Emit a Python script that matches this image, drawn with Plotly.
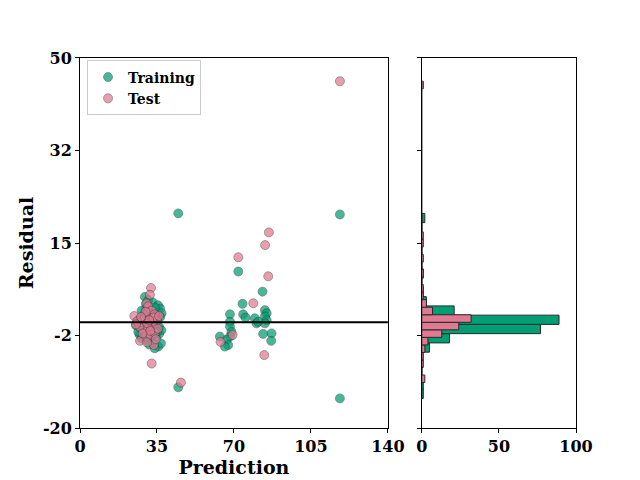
import plotly.graph_objects as go

# ---------------- data ----------------
train_pred = [29.5, 31, 33, 35.5, 36.4, 37.1, 36.5, 35, 33, 31, 29, 27, 26, 25.5, 28, 30, 32, 34, 36, 37,
              36, 34.5, 33, 31, 29, 27, 28, 30.5, 32.5, 35.6, 36.8, 34, 31.5, 27.5, 26.5, 30, 32, 34, 28, 33,
              31, 35, 29, 30, 34,
              44.7, 118.2, 72, 83.0, 73.9, 68.2, 74.2, 75.3, 84.1, 84.9, 84.1, 84.9, 84.1, 79.5, 80.3, 81,
              83.3, 87.1, 86.95, 68.2, 68.2, 68.9, 68.2, 66.7, 67.4, 63.6, 65.9, 44.7, 118.2]
train_resid = [4.8, 4.2, 3.8, 3.2, 2.6, 1.7, 1.0, 0.5, 0.2, 0.8, 1.5, 0.5, 0.0, -0.6, -0.3, -0.8, -1.2, -0.5, -0.9, -1.5,
               -2.2, -2.8, -2.5, -2.0, -1.8, -2.3, -3.0, -3.4, -3.8, -4.6, -4.0, -4.9, -4.2, -1.2, -1.8, 2.5, 1.9, 1.3, 2.2, -0.3,
               -0.2, -1.8, 0.3, 3.5, 2.8,
               20.6, 20.4, 9.6, 5.8, 3.5, 1.5, 1.5, 0.9, 2.3, 1.7, 1.1, 0.4, -0.2, 0.75, -0.2, 0.1,
               -2.2, -2.1, -3.5, 0.1, -0.8, -1.8, -2.7, -3.3, -4.3, -2.7, -4.6, -12.3, -14.4]

test_pred = [32.3, 31.8, 30.3, 31, 24.7, 27.3, 33.6, 32.6, 28, 29.5, 31, 32.5, 34, 35, 33, 31, 29, 27, 26,
             30, 32, 34, 35.5, 28.5, 30.5, 33.5, 29.8, 31.5, 27.8, 34.5, 30.5, 36, 25.5, 32,
             85.9, 84.2, 72, 85.6, 78.8, 63.9, 69.4, 83.8, 45.9, 118.2]
test_resid = [6.5, 5.2, 3.6, 3.0, 1.2, -3.5, -4.3, -7.8, 0.0, 0.8, 1.8, 2.2, 1.5, 0.3, -0.5, -1.0, -1.5, -0.8, 0.2,
              -2.6, -2.4, -2.0, -1.2, -2.1, -0.2, 0.9, 2.0, 0.4, 1.0, -3.2, -3.8, 1.2, -0.4, -1.6,
              17.0, 14.6, 12.3, 8.7, 3.6, -3.7, -2.4, -6.2, -11.4, 45.6]

# histogram bins (bin start, bin size, counts)
train_bin_start = -14.4
train_bin_size = 1.75
train_counts = [1, 1, 0, 0, 0, 5, 18, 77, 89, 21, 3, 1, 0, 1, 0, 0, 0, 0, 0, 2]

test_bin_start = -11.4
test_bin_size = 1.425
test_counts = [2, 0, 1, 1, 2, 4, 13, 24, 32, 7, 3, 1, 1, 0, 1, 0, 1, 0, 1, 1,
               0, 0, 0, 0, 0, 0, 0, 0, 0, 0, 0, 0, 0, 0, 0, 0, 0, 0, 0, 1]

y_ticks = [-20, -2.5, 15, 32.5, 50]
y_ticktext = ["-20", "-2", "15", "32", "50"]
x_ticks = [0, 35, 70, 105, 140]
h_ticks = [0, 50, 100]

# ---------------- styles ----------------
GREEN = "#009E73"
PINK = "#E07A93"
FONT = dict(family="DejaVu Serif", weight="bold", color="black")

train_centers = [train_bin_start + (i + 0.5) * train_bin_size for i in range(len(train_counts))]
test_centers = [test_bin_start + (i + 0.5) * test_bin_size for i in range(len(test_counts))]

fig = go.Figure()
fig.add_trace(go.Scatter(x=train_pred, y=train_resid, mode="markers", name="Training",
                         marker=dict(color=GREEN, size=9, opacity=0.72,
                                     line=dict(color="#333333", width=0.6)),
                         xaxis="x", yaxis="y"))
fig.add_trace(go.Scatter(x=test_pred, y=test_resid, mode="markers", name="Test",
                         marker=dict(color=PINK, size=9, opacity=0.72,
                                     line=dict(color="#333333", width=0.6)),
                         xaxis="x", yaxis="y"))
fig.add_trace(go.Bar(y=train_centers, x=train_counts, orientation="h", width=train_bin_size,
                     marker=dict(color=GREEN, line=dict(color="#2a2a2a", width=1)),
                     showlegend=False, xaxis="x2", yaxis="y2"))
fig.add_trace(go.Bar(y=test_centers, x=test_counts, orientation="h", width=test_bin_size,
                     marker=dict(color=PINK, line=dict(color="#2a2a2a", width=1)),
                     showlegend=False, xaxis="x2", yaxis="y2"))

fig.add_shape(type="line", xref="x domain", yref="y", x0=0, x1=1, y0=0, y1=0,
              line=dict(color="black", width=2), layer="above")

axis_common = dict(showline=True, linecolor="black", linewidth=1, mirror=True,
                   ticks="outside", ticklen=4, tickcolor="black", showgrid=False,
                   zeroline=False, automargin=False, tickfont=dict(size=16, **FONT))

fig.update_layout(
    width=640, height=480,
    margin=dict(l=0, r=0, t=0, b=0),
    paper_bgcolor="white", plot_bgcolor="white",
    barmode="overlay",
    font=FONT,
    xaxis=dict(domain=[0.125, 0.606], range=[0, 140], tickvals=x_ticks,
               title=dict(text="Prediction", font=dict(size=19, **FONT), standoff=2),
               **axis_common),
    yaxis=dict(domain=[0.1083, 0.8792], range=[-20, 50], tickvals=y_ticks, ticktext=y_ticktext,
               title=dict(text="Residual", font=dict(size=19, **FONT), standoff=4),
               **axis_common),
    xaxis2=dict(domain=[0.659, 0.9], range=[0, 100], tickvals=h_ticks, anchor="y2",
                **axis_common),
    yaxis2=dict(domain=[0.1083, 0.8792], range=[-20, 50], tickvals=y_ticks, showticklabels=False,
                anchor="x2", **axis_common),
    legend=dict(x=0.136, y=0.874, xanchor="left", yanchor="top",
                bgcolor="white", bordercolor="#cccccc", borderwidth=1,
                font=dict(size=14, **FONT), tracegroupgap=0, itemwidth=30),
)

fig.write_html("out.html")
